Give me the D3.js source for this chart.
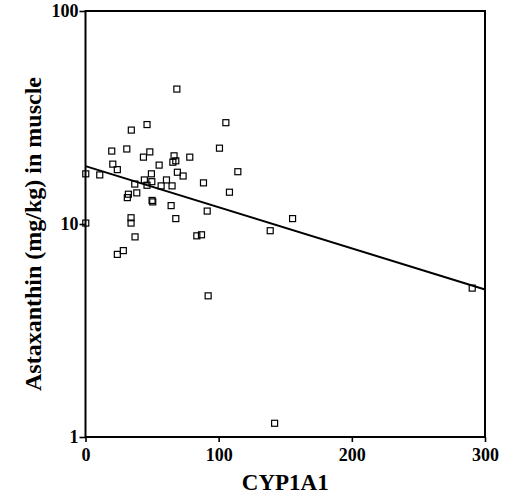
<!DOCTYPE html>
<html>
<head>
<meta charset="utf-8">
<script src="https://cdn.jsdelivr.net/npm/d3@7"></script>
<style>
  body { margin: 0; background: #fff; }
  text { font-family: "Liberation Serif", "DejaVu Serif", serif; font-weight: bold; fill: #000; }
</style>
</head>
<body>
<svg id="chart"></svg>
<script>
// CYP1A1 activity vs astaxanthin (mg/kg) in muscle
const cyp = [68.6, 34.4, 46.2, 105.4, 19.7, 31.0, 48.3, 43.5, 66.5, 100.6,
  78.3, 65.6, 67.8, 55.3, 20.5, 23.9, 0.2, 10.7, 49.5, 69.0,
  73.3, 114.4, 37.0, 44.2, 49.8, 46.2, 60.8, 56.8, 65.0, 88.6,
  108.1, 32.2, 31.4, 38.5, 50.0, 50.5, 64.3, 91.4, 67.8, 34.2,
  34.2, 0.2, 138.7, 37.2, 83.6, 87.1, 155.5, 23.9, 28.4, 92.1,
  142.0, 290.4];
const astax = [43.0, 27.6, 29.3, 29.9, 22.0, 22.5, 21.8, 20.6, 20.9, 22.7,
  20.6, 19.5, 19.8, 18.9, 19.1, 18.0, 17.2, 17.0, 17.2, 17.5,
  16.8, 17.6, 15.4, 16.1, 15.8, 15.2, 16.1, 15.1, 15.1, 15.6,
  14.1, 13.8, 13.3, 14.0, 12.9, 12.7, 12.2, 11.5, 10.6, 10.7,
  10.1, 10.1, 9.3, 8.7, 8.8, 8.9, 10.6, 7.2, 7.5, 4.6,
  1.16, 5.0];
// fitted regression line end points
const fitX = [0, 300];
const fitY = [18.7, 4.93];

const xTicks = [0, 100, 200, 300];
const yTicks = [1, 10, 100];

const W = 508, H = 496;
const margin = {top: 11, right: 23, bottom: 59, left: 85.5};
const width = W - margin.left - margin.right,
      height = H - margin.top - margin.bottom;

const svg = d3.select("#chart")
  .attr("width", W)
  .attr("height", H)
  .append("g")
    .attr("transform", `translate(${margin.left},${margin.top})`);

const x = d3.scaleLinear().domain([0, 300]).range([0, width]);
const y = d3.scaleLog().domain([1, 100]).range([height, 0]);

// frame
svg.append("rect")
  .attr("width", width)
  .attr("height", height)
  .attr("fill", "none")
  .attr("stroke", "#000")
  .attr("stroke-width", 2);

const xAxis = svg.append("g")
  .attr("transform", `translate(0,${height})`)
  .call(d3.axisBottom(x).tickValues(xTicks).tickSize(5).tickPadding(6).tickFormat(d3.format("d")));
const yAxis = svg.append("g")
  .call(d3.axisLeft(y).tickValues(yTicks).tickSize(6).tickPadding(1).tickFormat(d3.format("d")));

[xAxis, yAxis].forEach(g => {
  g.select(".domain").remove();
  g.selectAll("line").attr("stroke", "#000").attr("stroke-width", 1.6);
  g.selectAll("text").style("font-size", "18px");
});

// regression line
svg.append("path")
  .datum(fitX.map((d, i) => [d, fitY[i]]))
  .attr("fill", "none")
  .attr("stroke", "#000")
  .attr("stroke-width", 2)
  .attr("d", d3.line().x(d => x(d[0])).y(d => y(d[1])));

// points
const pts = cyp.map((d, i) => ({x: d, y: astax[i]}));
svg.selectAll(".pt")
  .data(pts)
  .enter()
  .append("rect")
  .attr("class", "pt")
  .attr("x", d => x(d.x) - 3)
  .attr("y", d => y(d.y) - 3)
  .attr("width", 6)
  .attr("height", 6)
  .attr("fill", "none")
  .attr("stroke", "#000")
  .attr("stroke-width", 1.2);

// axis titles
svg.append("text")
  .attr("x", width / 2)
  .attr("y", height + 53)
  .attr("text-anchor", "middle")
  .style("font-size", "23px")
  .text("CYP1A1");

svg.append("text")
  .attr("transform", `translate(${-45},${223}) rotate(-90)`)
  .attr("text-anchor", "middle")
  .style("font-size", "24px")
  .text("Astaxanthin (mg/kg) in muscle");
</script>
</body>
</html>
